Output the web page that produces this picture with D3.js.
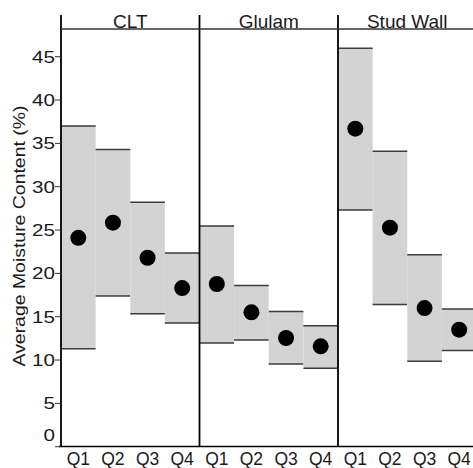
<!DOCTYPE html>
<html><head><meta charset="utf-8">
<script src="https://cdn.jsdelivr.net/npm/d3@7"></script>
<style>body{margin:0;background:#fff}svg{display:block}text{font-family:"Liberation Sans",Arial,sans-serif;fill:#1a1a1a}</style>
</head><body>
<svg id="c" width="473" height="468"></svg>
<script>
const panels = ["CLT","Glulam","Stud Wall"];
const quarters = ["Q1","Q2","Q3","Q4"];
const means = [[24.1,25.85,21.8,18.3],[18.77,15.5,12.54,11.58],[36.7,25.27,16.0,13.5]];
const upper = [[37.0,34.3,28.2,22.35],[25.47,18.6,15.6,13.96],[45.97,34.1,22.15,15.9]];
const lower = [[11.3,17.4,15.35,14.27],[11.96,12.3,9.54,9.04],[27.3,16.4,9.85,11.1]];
const yTicks = [0,5,10,15,20,25,30,35,40,45];
const yTitle = "Average Moisture Content (%)";

const svg = d3.select("#c");
const left = 61, panelW = 138.5, topY = 29, stripTop = 15;
const y = d3.scaleLinear().domain([0,45]).range([446.7,56.7]);
const px = d3.scaleBand().domain(panels).range([left, left+panelW*3]);
const qx = d3.scaleBand().domain(quarters).range([0, panelW]);

panels.forEach((p,i)=>{
  const g = svg.append("g").attr("transform",`translate(${px(p)},0)`);
  quarters.forEach((q,j)=>{
    const x0 = qx(q), w = qx.bandwidth();
    g.append("rect").attr("x",x0).attr("width",w)
      .attr("y",y(upper[i][j])).attr("height",y(lower[i][j])-y(upper[i][j]))
      .attr("fill","#d3d3d3");
    [upper[i][j],lower[i][j]].forEach(v=>{
      g.append("line").attr("x1",x0).attr("x2",x0+w).attr("y1",y(v)).attr("y2",y(v))
        .attr("stroke","#3c3c3c").attr("stroke-width",1.5);
    });
    g.append("circle").attr("cx",x0+w/2).attr("cy",y(means[i][j])).attr("r",8).attr("fill","#000");
    g.append("text").attr("x",x0+w/2).attr("y",465).attr("text-anchor","middle")
      .attr("font-size",17.5).text(q);
  });
  g.append("text").attr("x",panelW/2).attr("y",topY-1).attr("text-anchor","middle")
    .attr("font-size",19).text(p);
  g.append("line").attr("x1",0).attr("x2",0).attr("y1",stripTop).attr("y2",447)
    .attr("stroke","#000").attr("stroke-width",1.8);
});
// top strip line
svg.append("line").attr("x1",left).attr("x2",473).attr("y1",topY).attr("y2",topY)
  .attr("stroke","#333").attr("stroke-width",1.5);
// bottom axis line
svg.append("line").attr("x1",59).attr("x2",473).attr("y1",446.5).attr("y2",446.5)
  .attr("stroke","#000").attr("stroke-width",1.5);
// y axis ticks
const ya = svg.append("g");
yTicks.forEach(t=>{
  ya.append("line").attr("x1",55).attr("x2",left).attr("y1",y(t)).attr("y2",y(t))
    .attr("stroke","#333").attr("stroke-width",1);
  ya.append("text")
    .attr("transform",`translate(55,${y(t)+(t===0?-11.5:0)}) scale(1.25,1)`)
    .attr("dy","0.36em")
    .attr("text-anchor","end").attr("font-size",16.5).text(t);
});
svg.append("text").attr("transform","translate(24.5,236) rotate(-90) scale(1.13,1)")
  .attr("text-anchor","middle").attr("font-size",17.2).text(yTitle);
</script>
</body></html>
